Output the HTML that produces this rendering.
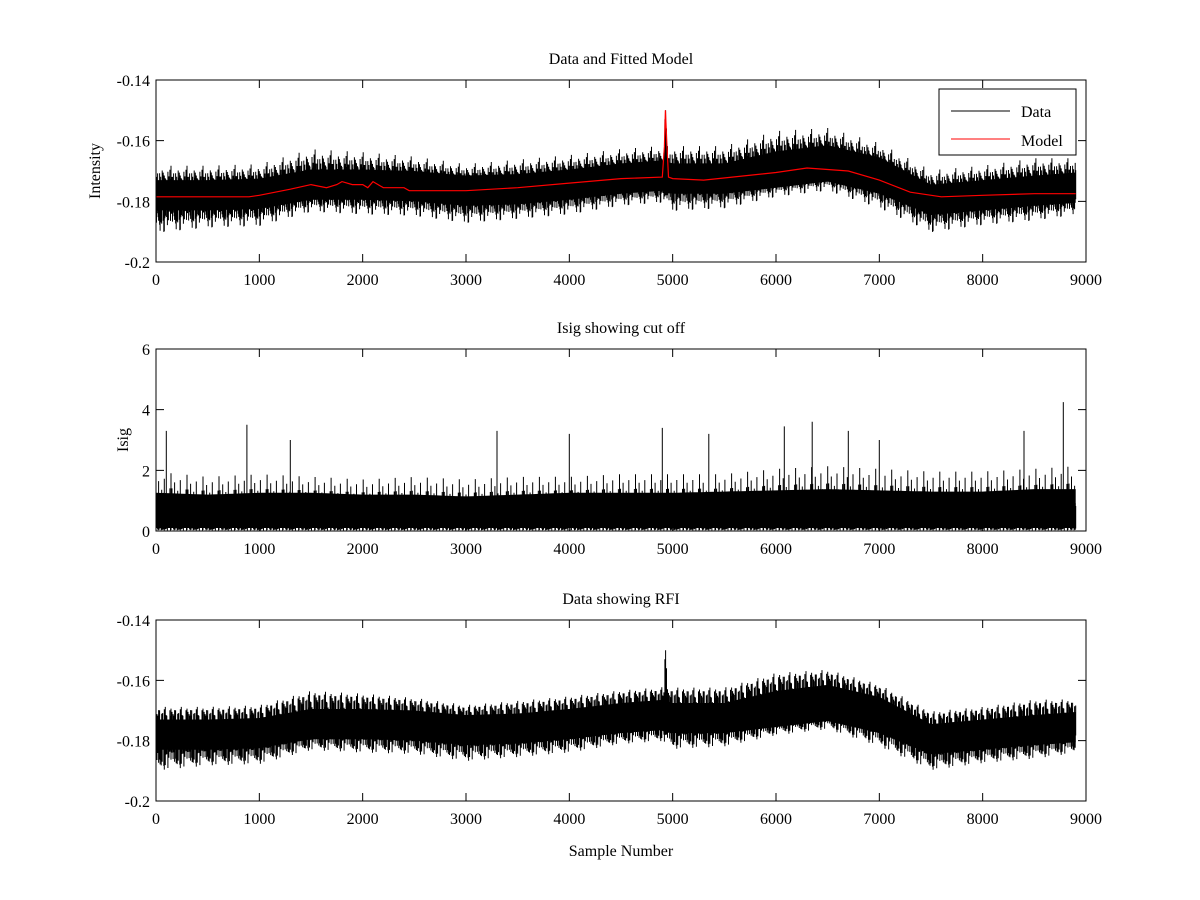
<!DOCTYPE html>
<html><head><meta charset="utf-8"><style>
body{margin:0;background:#fff}
svg{display:block}
text{font-family:"Liberation Serif",serif;font-size:16px;fill:#000}
</style></head><body>
<svg id="fig" width="1200" height="900"></svg>
<script>
// ---- data ----
const sampleX = [0,500,1000,1500,2000,2500,3000,3500,4000,4500,4900,5000,5500,6000,6500,7000,7500,8000,8500,8900];
const dataCenter = [-0.178,-0.178,-0.1775,-0.1745,-0.1745,-0.175,-0.1765,-0.176,-0.1745,-0.1725,-0.1715,-0.1725,-0.1725,-0.1695,-0.1675,-0.1715,-0.1795,-0.178,-0.1765,-0.1755];
const coreHalf = [0.005,0.005,0.005,0.005,0.005,0.005,0.005,0.005,0.005,0.005,0.005,0.005,0.005,0.006,0.006,0.006,0.005,0.005,0.005,0.005];
const spikeUp = [0.010,0.010,0.010,0.012,0.011,0.010,0.009,0.010,0.010,0.010,0.010,0.011,0.011,0.013,0.012,0.011,0.010,0.010,0.011,0.010];
const spikeDown = [0.014,0.012,0.012,0.010,0.011,0.011,0.012,0.011,0.011,0.010,0.010,0.012,0.011,0.010,0.010,0.012,0.012,0.011,0.011,0.010];
const rfiX = [4915,4925,4932,4940,4950];
const rfiVal = [-0.164,-0.153,-0.150,-0.156,-0.166];
const modelX = [0,900,1000,1300,1500,1650,1750,1800,1900,2000,2050,2100,2200,2400,2450,3000,3500,4000,4500,4900,4920,4930,4945,4960,5000,5300,6000,6300,6700,7000,7300,7600,8000,8500,8900];
const modelY = [-0.1785,-0.1785,-0.178,-0.176,-0.1745,-0.1755,-0.1745,-0.1735,-0.1745,-0.1745,-0.1755,-0.1735,-0.1755,-0.1755,-0.1765,-0.1765,-0.1755,-0.174,-0.1725,-0.172,-0.162,-0.150,-0.162,-0.172,-0.1725,-0.173,-0.1705,-0.169,-0.170,-0.173,-0.177,-0.1785,-0.178,-0.1775,-0.1775];
const isigCenter = [0.68,0.65,0.68,0.68,0.65,0.65,0.62,0.65,0.68,0.68,0.68,0.68,0.7,0.72,0.74,0.72,0.7,0.7,0.74,0.74];
const isigHalf = [0.58,0.55,0.58,0.58,0.55,0.55,0.52,0.55,0.58,0.58,0.58,0.58,0.6,0.62,0.64,0.62,0.6,0.6,0.64,0.64];
const isigSpike = [2.2,2.0,2.1,2.0,1.9,2.0,1.9,2.0,2.0,2.1,2.1,2.1,2.1,2.3,2.4,2.3,2.2,2.2,2.3,2.4];
const isigTallX = [100,880,1300,3300,4000,4900,5350,6080,6350,6700,7000,8400,8780];
const isigTallY = [3.3,3.5,3.0,3.3,3.2,3.4,3.2,3.45,3.6,3.3,3.0,3.3,4.25];
const texture = [0.3,0.92,0.5,0.12,0.7,1.0,0.4,0.22,0.8,0.6,0.95,0.35,0.08,0.75,0.55,0.85,0.18,0.45,0.65,0.28,0.9,0.05,0.62,0.38,0.78,0.15,0.52,0.98,0.25,0.68,0.42];
const xTicks = [0,1000,2000,3000,4000,5000,6000,7000,8000,9000];
const intTicks = [-0.2,-0.18,-0.16,-0.14];
const isigTicks = [0,2,4,6];
const xEnd = 8900;

const NS="http://www.w3.org/2000/svg";
const svg=document.getElementById('fig');
function mk(tag,attrs,parent){const e=document.createElementNS(NS,tag);for(const k in attrs)e.setAttribute(k,attrs[k]);(parent||svg).appendChild(e);return e;}
function interp(xs,ys,x){for(let i=0;i<xs.length-1;i++){if(x<=xs[i+1]){const t=(x-xs[i])/(xs[i+1]-xs[i]);return ys[i]+t*(ys[i+1]-ys[i]);}}return ys[ys.length-1];}

const L=156,R=1086;
function sx(v){return L+(v/9000)*(R-L);}
const panels=[
 {top:80,bot:262,ymin:-0.2,ymax:-0.14,ticks:intTicks,title:'Data and Fitted Model',ylab:'Intensity',name:'model-panel'},
 {top:349,bot:531,ymin:0,ymax:6,ticks:isigTicks,title:'Isig showing cut off',ylab:'Isig',name:'isig-panel'},
 {top:620,bot:801,ymin:-0.2,ymax:-0.14,ticks:intTicks,title:'Data showing RFI',ylab:'',name:'rfi-panel'}
];
const TN=texture.length;
panels.forEach((p,pi)=>{
 const g=mk('g',{});
 
 
 const sy=v=>p.bot-(v-p.ymin)/(p.ymax-p.ymin)*(p.bot-p.top);
 const isI=pi===1;
 let up=[],dn=[];
 for(let s=0;s<=xEnd;s+=50){
   const c=isI?interp(sampleX,isigCenter,s):interp(sampleX,dataCenter,s);
   const h=isI?interp(sampleX,isigHalf,s):interp(sampleX,coreHalf,s);
   up.push(sx(s).toFixed(1)+','+sy(c+h).toFixed(1));
   dn.unshift(sx(s).toFixed(1)+','+sy(c-h).toFixed(1));
 }
 const band=mk('polygon',{points:up.concat(dn).join(' '),fill:'#000'},g);
 
 
 let d='';let k=0;
 for(let s=0;s<=xEnd;s+=5,k++){
   const c=isI?interp(sampleX,isigCenter,s):interp(sampleX,dataCenter,s);
   const a=texture[(k*13+pi*5)%TN], b=texture[(k*17+3+pi*7)%TN], e=texture[(k*5+11)%TN];
   const fu=a*(0.55+0.45*e), fd=b*(0.55+0.45*e);
   let y1,y2;
   if(isI){const sp=interp(sampleX,isigSpike,s);y1=sy(c+(sp-c)*fu*fu);y2=sy(Math.max(0.02,0.15*b));}
   else{const h=interp(sampleX,coreHalf,s);y1=sy(c+h*0.5+(interp(sampleX,spikeUp,s)-h*0.5)*fu);y2=sy(c-h*0.5-(interp(sampleX,spikeDown,s)-h*0.5)*fd);}
   const x=sx(s).toFixed(1);
   d+='M'+x+' '+y1.toFixed(1)+'V'+y2.toFixed(1);
 }
 if(isI){isigTallX.forEach((s,i)=>{const x=sx(s).toFixed(1);d+='M'+x+' '+sy(isigTallY[i]).toFixed(1)+'V'+sy(0.5).toFixed(1);});}
 else{rfiX.forEach((s,i)=>{const x=sx(s).toFixed(1);d+='M'+x+' '+sy(rfiVal[i]).toFixed(1)+'V'+sy(-0.178).toFixed(1);});}
 const spk=mk('path',{d:d,stroke:'#000','stroke-width':1,fill:'none'},g);
 
 
 if(pi===0){
   const pts=modelX.map((s,i)=>sx(s).toFixed(1)+','+sy(modelY[i]).toFixed(1)).join(' ');
   const ml=mk('polyline',{points:pts,stroke:'#f00','stroke-width':1.2,fill:'none'},g);
   
   
 }
 const box=mk('rect',{x:L,y:p.top,width:R-L,height:p.bot-p.top,fill:'none',stroke:'#000','stroke-width':1},g);
 
 
 xTicks.forEach(v=>{
   const x=sx(v);
   mk('path',{d:`M${x} ${p.bot}v-8M${x} ${p.top}v8`,stroke:'#000'},g);
   const t=mk('text',{x:x,y:p.bot+23,'text-anchor':'middle'},g);t.textContent=v;
   
   
 });
 p.ticks.forEach(v=>{
   const y=sy(v);
   mk('path',{d:`M${L} ${y}h8M${R} ${y}h-8`,stroke:'#000'},g);
   const t=mk('text',{x:L-6,y:y+6,'text-anchor':'end'},g);t.textContent=(Math.round(v*100)/100).toString();
   
   
 });
 const tt=mk('text',{x:621,y:p.top-16,'text-anchor':'middle'},g);tt.textContent=p.title;
 
 
 if(p.ylab){
   const yx=pi===0?100:128, yy=(p.top+p.bot)/2;
   const yl=mk('text',{x:yx,y:yy,'text-anchor':'middle',transform:`rotate(-90 ${yx} ${yy})`},g);yl.textContent=p.ylab;
   
   
 }
});
const lg=mk('g',{});


mk('rect',{x:939,y:89,width:137,height:66,fill:'#fff',stroke:'#000'},lg);
mk('path',{d:'M951 111H1010',stroke:'#000'},lg);
mk('path',{d:'M951 139H1010',stroke:'#f00'},lg);
const l1=mk('text',{x:1021,y:117},lg);l1.textContent='Data';


const l2=mk('text',{x:1021,y:146},lg);l2.textContent='Model';


const xl=mk('text',{x:621,y:856,'text-anchor':'middle'});xl.textContent='Sample Number';


</script>
</body></html>
